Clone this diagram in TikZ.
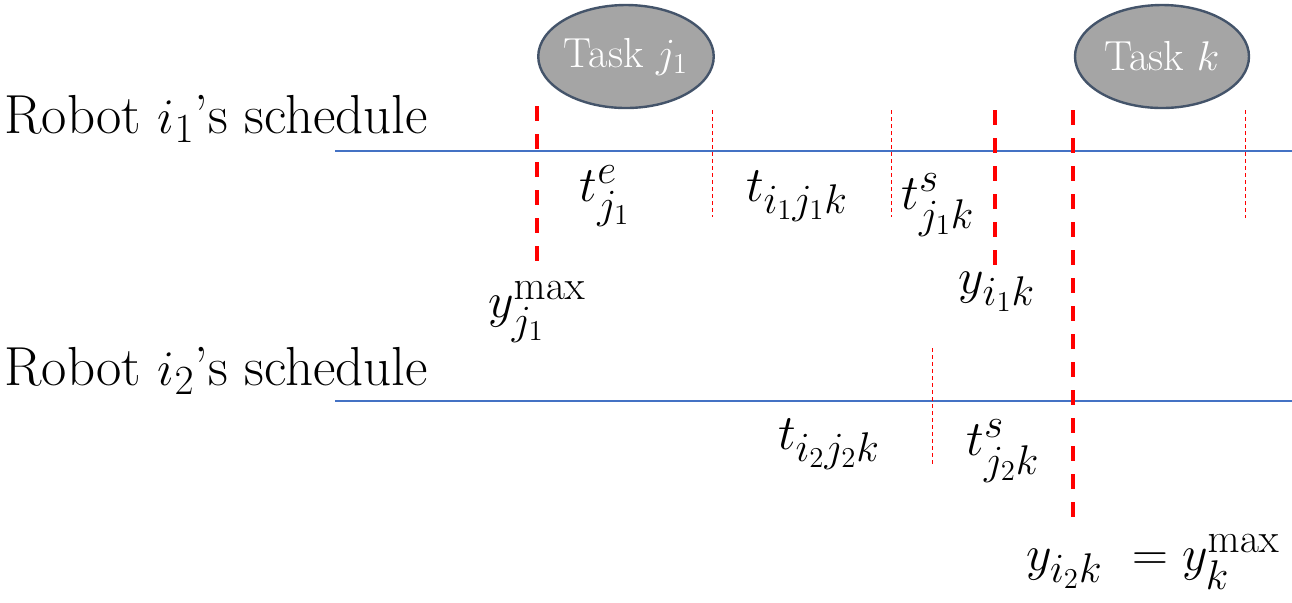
\documentclass[tikz,border=0pt]{standalone}
\usepackage{amsmath}
\usepackage{tikz}
\usetikzlibrary{positioning,shapes.geometric}
\usepackage{xcolor}
\definecolor{taskgray}{HTML}{A5A5A5}
\definecolor{taskborder}{HTML}{44546A}
\definecolor{laneblue}{HTML}{4472C4}
\definecolor{boundred}{HTML}{FF0000}

\begin{document}
\begin{tikzpicture}[
  x=0.5pt, y=-0.5pt,
  task/.style={
    ellipse,
    draw=taskborder,
    fill=taskgray,
    line width=1.2pt,
    minimum width=87pt,
    minimum height=51.5pt,
    inner sep=0pt,
    text=white,
    font=\fontsize{21}{24}\selectfont
  },
  robot/.style={
    anchor=base west,
    inner sep=0pt,
    font=\fontsize{27.5}{32}\selectfont
  },
  lane/.style={draw=laneblue, line width=0.6pt},
  bound/.style={draw=boundred, line width=2pt, dash pattern=on 7.5pt off 6.5pt},
  split/.style={draw=boundred, line width=0.5pt, dash pattern=on 2pt off 1.5pt},
  lbl/.style={inner sep=0pt, font=\fontsize{28}{32}\selectfont}
]
  \useasboundingbox (0,0) rectangle (1292,602);

  % Tasks
  \node[task] (taskj) at (626,56.5) {Task $j_1$};
  \node[task] (taskk) at (1162,56.5) {Task $k$};

  % Robot i1 lane
  \node[robot] (robot1) at (4,133) {Robot $i_1$’s schedule};
  \coordinate (lane1w) at (335,151);
  \coordinate (lane1e) at (1292,151);
  \draw[lane] (lane1w) -- (lane1e);

  % Robot i2 lane
  \node[robot] (robot2) at (4,385) {Robot $i_2$’s schedule};
  \coordinate (lane2w) at (335,401);
  \coordinate (lane2e) at (1292,401);
  \draw[lane] (lane2w) -- (lane2e);

  % Time marks
  \draw[bound] (537,106) -- (537,263);
  \draw[bound] (995,110) -- (995,265);
  \draw[bound] (1073,110) -- (1073,518);
  \draw[split] (712,110) -- (712,217);
  \draw[split] (891,110) -- (891,217);
  \draw[split] (1245,110) -- (1245,218);
  \draw[split] (932,348) -- (932,466);

  % Durations and times
  \node[lbl] (tej)   at (605,196)  {$t^{e}_{j_1}$};
  \node[lbl] (ti1)   at (797,196)  {$t_{i_1j_1k}$};
  \node[lbl] (tsj1)  at (938,205)  {$t^{s}_{j_1k}$};
  \node[lbl] (ymaxj) at (537,312)  {$y^{\max}_{j_1}$};
  \node[lbl] (yi1)   at (997,292)  {$y_{i_1k}$};
  \node[lbl] (ti2)   at (829,444)  {$t_{i_2j_2k}$};
  \node[lbl] (tsj2)  at (1003,451) {$t^{s}_{j_2k}$};
  \node[lbl] (yi2)   at (1153,562) {$y_{i_2k}\hspace{8pt}= y^{\max}_{k}$};

\end{tikzpicture}
\end{document}
